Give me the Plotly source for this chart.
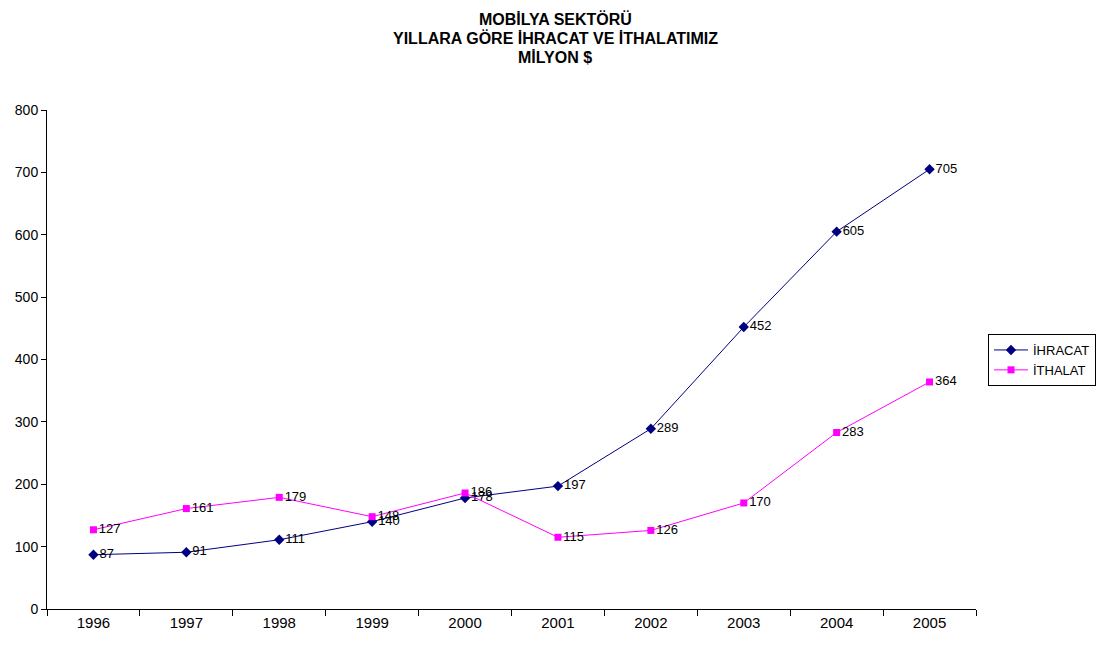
import plotly.graph_objects as go

years = ["1996", "1997", "1998", "1999", "2000", "2001", "2002", "2003", "2004", "2005"]
ihracat = [87, 91, 111, 140, 178, 197, 289, 452, 605, 705]
ithalat = [127, 161, 179, 148, 186, 115, 126, 170, 283, 364]
title_lines = ["MOBİLYA SEKTÖRÜ", "YILLARA GÖRE İHRACAT VE İTHALATIMIZ", "MİLYON $"]

FONT = "Liberation Sans, Arial, sans-serif"

# page body has an 8px margin; plot area in page pixels: x 47..976, y 110..609
OFF = 8
PL, PR, PT, PB = 47 - OFF, 976 - OFF, 110 - OFF, 609 - OFF
PW, PH = PR - PL, PB - PT

def px(x):
    return (x - OFF - PL) / PW

def py(y):
    return (PB - (y - OFF)) / PH

fig = go.Figure()
fig.add_trace(go.Scatter(
    x=years, y=ihracat, name="İHRACAT", mode="lines+markers+text",
    line=dict(color="#000080", width=1),
    marker=dict(symbol="diamond", size=8, color="#000080"),
    text=[str(v) for v in ihracat], textposition="middle right",
    textfont=dict(family=FONT, size=13, color="black"),
))
fig.add_trace(go.Scatter(
    x=years, y=ithalat, name="İTHALAT", mode="lines+markers+text",
    line=dict(color="#FF00FF", width=1),
    marker=dict(symbol="square", size=7, color="#FF00FF"),
    text=[str(v) for v in ithalat], textposition="middle right",
    textfont=dict(family=FONT, size=13, color="black"),
))

for line, ty in zip(title_lines, [19, 38, 58]):
    fig.add_annotation(
        text="<b>" + line + "</b>", xref="paper", yref="paper",
        x=px(555), y=py(ty), xanchor="center", yanchor="middle",
        showarrow=False, font=dict(family=FONT, size=16, color="black"),
    )

fig.update_layout(
    width=1110, height=645,
    margin=dict(l=PL, r=1110 - PR, t=PT, b=645 - PB, autoexpand=False),
    paper_bgcolor="white", plot_bgcolor="white",
    showlegend=True,
    legend=dict(
        x=px(988), y=py(360), xanchor="left", yanchor="middle",
        bordercolor="black", borderwidth=1, bgcolor="white",
        font=dict(family=FONT, size=13, color="black"),
        tracegroupgap=0, itemwidth=34,
    ),
    font=dict(family=FONT, color="black"),
)
fig.update_xaxes(
    type="category", range=[-0.5, 9.5],
    showline=True, linecolor="black", linewidth=1,
    ticks="outside", tickson="boundaries", ticklen=6, tickcolor="black",
    showgrid=False, zeroline=False,
    tickfont=dict(family=FONT, size=15, color="black"),
)
fig.update_yaxes(
    range=[0, 800], dtick=100,
    showline=True, linecolor="black", linewidth=1,
    ticks="outside", ticklen=5, tickcolor="black",
    showgrid=False, zeroline=False,
    tickfont=dict(family=FONT, size=14, color="black"),
)

fig.write_html("out.html")
